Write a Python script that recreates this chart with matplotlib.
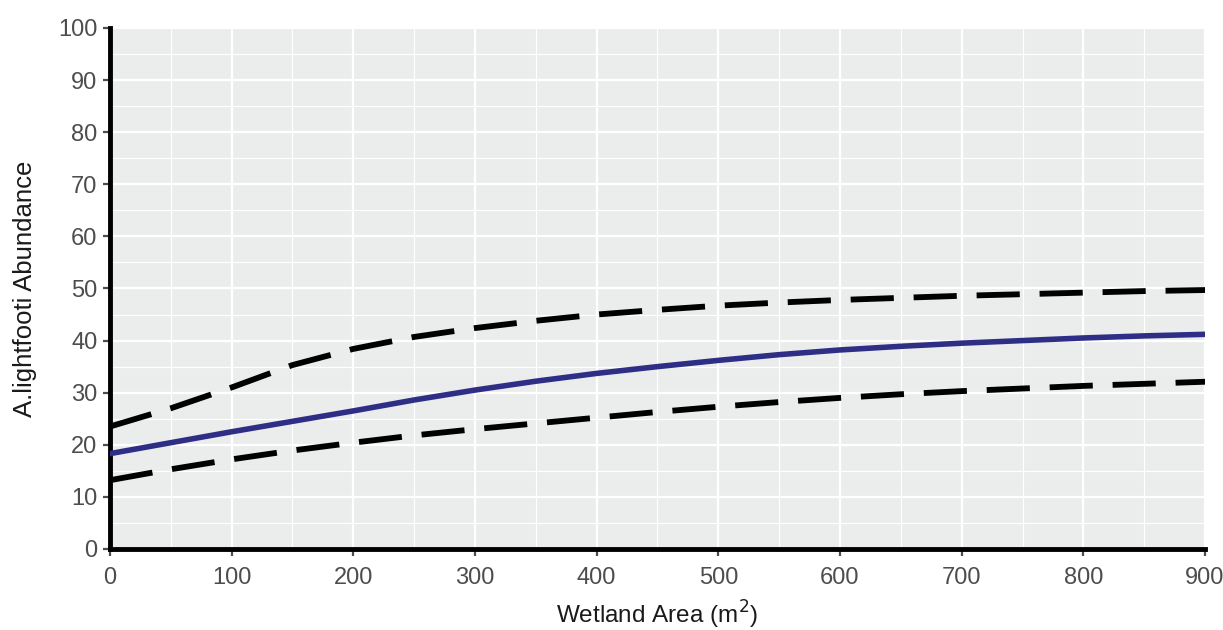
import numpy as np
import matplotlib
matplotlib.use("Agg")
import matplotlib.pyplot as plt

# Wetland area (m^2) and fitted abundance with confidence bounds
area = [0, 50, 100, 150, 200, 250, 300, 350, 400, 450, 500, 550, 600, 650, 700, 750, 800, 850, 900]
fit = [18.3, 20.4, 22.5, 24.5, 26.5, 28.6, 30.5, 32.2, 33.7, 35.0, 36.2, 37.3, 38.2, 38.9, 39.5, 40.0, 40.5, 40.9, 41.2]
upper = [23.5, 27.0, 31.0, 35.3, 38.4, 40.7, 42.4, 43.8, 45.0, 45.9, 46.7, 47.3, 47.8, 48.2, 48.6, 48.9, 49.2, 49.5, 49.7]
lower = [13.2, 15.3, 17.2, 18.9, 20.4, 21.8, 23.0, 24.1, 25.2, 26.3, 27.3, 28.2, 29.0, 29.7, 30.3, 30.8, 31.3, 31.7, 32.1]

x_ticks = np.arange(0, 901, 100)
y_ticks = np.arange(0, 101, 10)

plt.rcParams["font.family"] = ["Liberation Sans", "DejaVu Sans"]

fig = plt.figure(figsize=(12.23, 6.30), dpi=100)
ax = fig.add_axes([0.0899, 0.1286, 0.8954, 0.8270])
ax.set_facecolor("#ebecec")

# confidence bounds (dashed) and fitted curve
ax.plot(area, upper, color="black", lw=4.2, dashes=(7.4, 3.4), zorder=3)
ax.plot(area, lower, color="black", lw=4.2, dashes=(7.4, 3.4), zorder=3)
ax.plot(area, fit, color="#2e2e86", lw=4.0, zorder=4)

ax.set_xlim(0, 900)
ax.set_ylim(0, 100)
ax.set_xticks(x_ticks)
ax.set_yticks(y_ticks)
ax.set_xticks(np.arange(50, 900, 100), minor=True)
ax.set_yticks(np.arange(5, 100, 10), minor=True)

ax.grid(which="major", color="white", lw=1.6)
ax.grid(which="minor", color="white", lw=0.8)
ax.set_axisbelow(True)

for side in ("top", "right"):
    ax.spines[side].set_visible(False)
for side in ("left", "bottom"):
    ax.spines[side].set_color("black")
    ax.spines[side].set_linewidth(3.5)

ax.tick_params(which="major", direction="out", length=5, width=1.6, color="#4d4d4d",
               labelcolor="#4d4d4d", labelsize=17, pad=4)
ax.tick_params(axis="x", which="major", pad=8)
ax.tick_params(which="minor", length=0)

ax.set_xlabel("Wetland Area (m$^2$)", fontsize=17.5, color="#1a1a1a", labelpad=7)
ax.set_ylabel("A.lightfooti Abundance", fontsize=18.5, color="#1a1a1a", labelpad=15)

fig.savefig("out.png", dpi=100)
